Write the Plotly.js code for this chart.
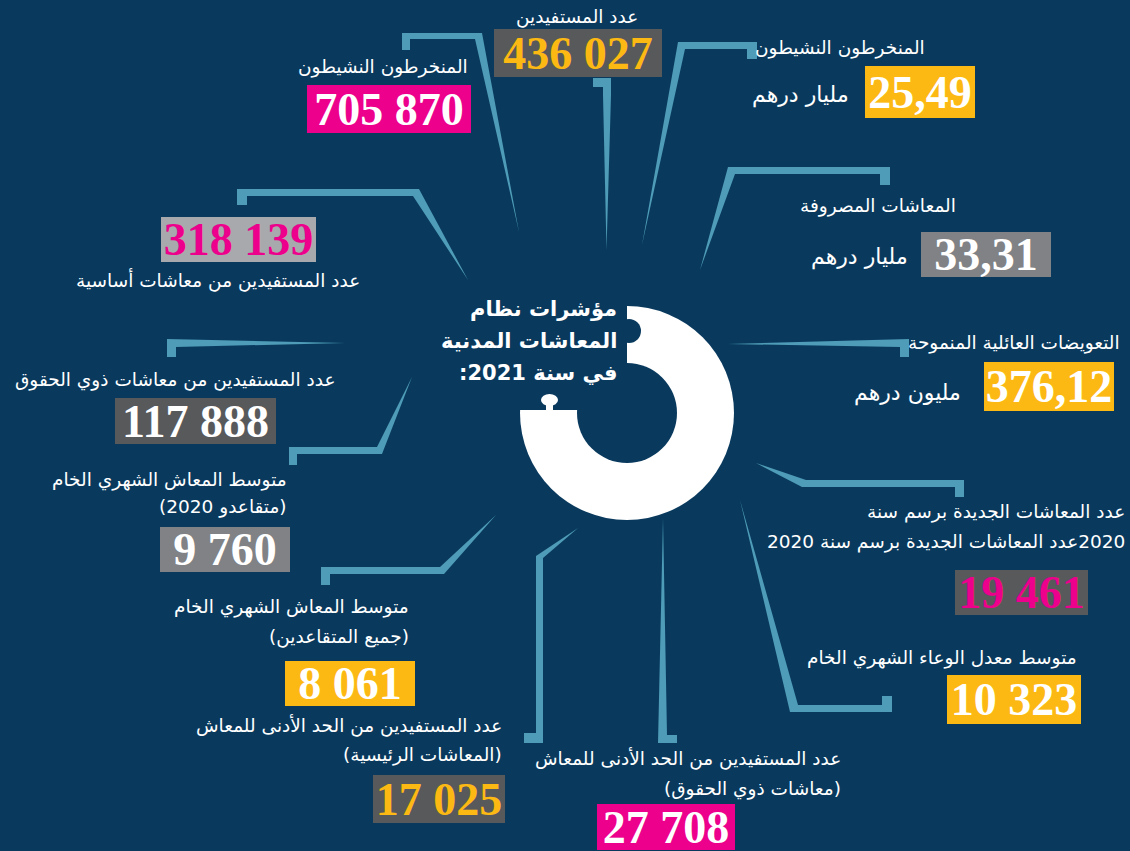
<!DOCTYPE html>
<html>
<head>
<meta charset="utf-8">
<script src="https://cdn.plot.ly/plotly-3.0.1.min.js"></script>
<style>html,body{margin:0;padding:0;background:#093a5e;}#chart{width:1130px;height:851px;}</style>
</head>
<body>
<div id="chart"></div>
<script>
// ---------- data ----------
const chartTitle = ['مؤشرات نظام', 'المعاشات المدنية', 'في سنة 2021:'];
const labels = [
  'عدد المستفيدين',
  'المنخرطون النشيطون',
  'المنخرطون النشيطون',
  'المعاشات المصروفة',
  'التعويضات العائلية المنموحة',
  'عدد المعاشات الجديدة برسم سنة<br>2020عدد المعاشات الجديدة برسم سنة 2020',
  'متوسط معدل الوعاء الشهري الخام',
  'عدد المستفيدين من الحد الأدنى للمعاش<br>(معاشات ذوي الحقوق)',
  'عدد المستفيدين من الحد الأدنى للمعاش<br>(المعاشات الرئيسية)',
  'متوسط المعاش الشهري الخام<br>(جميع المتقاعدين)',
  'متوسط المعاش الشهري الخام<br>(متقاعدو 2020)',
  'عدد المستفيدين من معاشات ذوي الحقوق',
  'عدد المستفيدين من معاشات أساسية'
];
const values = [436027, 705870, 25.49, 33.31, 376.12, 19461, 10323, 27708, 17025, 8061, 9760, 117888, 318139];
const decimals = [0, 0, 2, 2, 2, 0, 0, 0, 0, 0, 0, 0, 0];
const units = ['', '', 'مليار درهم', 'مليار درهم', 'مليون درهم', '', '', '', '', '', '', '', ''];

// ---------- styles / layout ----------
const BG = '#093a5e', LINE = '#4e9cb7';
const PINK = '#ec008c', GOLD = '#fdb913', DGRAY = '#58595b', MGRAY = '#808285', LGRAY = '#a7a9ac', WHITE = '#ffffff';
const boxStyle = [
  [DGRAY, GOLD], [PINK, WHITE], [GOLD, WHITE], [MGRAY, WHITE], [GOLD, WHITE],
  [DGRAY, PINK], [GOLD, WHITE], [PINK, WHITE], [DGRAY, GOLD], [GOLD, WHITE],
  [MGRAY, WHITE], [DGRAY, WHITE], [LGRAY, PINK]
];
const place = [
  {lx: 640, ly: 17, box: [494, 29, 168, 48]},
  {lx: 470, ly: 67, box: [307, 85, 164, 48]},
  {lx: 927, ly: 48, box: [865, 66, 110, 52], ux: 851, uy: 95},
  {lx: 958, ly: 206, box: [921, 232, 130, 45], ux: 910, uy: 257},
  {lx: 1122, ly: 343, box: [984, 362, 130, 49], ux: 963, uy: 393},
  {lx: 1127, ly: 512, box: [955, 570, 133, 45], gap: 30},
  {lx: 1079, ly: 658, box: [947, 675, 134, 49]},
  {lx: 843, ly: 758, box: [597, 804, 138, 46], gap: 31},
  {lx: 504, ly: 725, box: [373, 775, 132, 48], gap: 30},
  {lx: 411, ly: 607, box: [285, 661, 130, 45], gap: 30},
  {lx: 289, ly: 480, box: [160, 527, 130, 45], gap: 27},
  {lx: 338, ly: 380, box: [115, 398, 161, 46]},
  {lx: 362, ly: 280, box: [161, 217, 155, 45]}
];
// connector outlines (decorative)
const connectors = [
  [[402,50],[402,33],[482,33],[519,232],[475,39],[410,39],[410,50]],
  [[593,78],[611,78],[611,95],[606.5,250],[603,95],[603,87],[593,87]],
  [[757,59],[757,42],[678,42],[642,245],[685,49],[747,49],[747,59]],
  [[890,185],[890,167],[728,167],[700,270],[735,174],[880,174],[880,185]],
  [[728,344],[909,339],[909,357],[900,357],[900,347]],
  [[756,463],[806,480],[964,480],[964,497],[955,497],[955,487],[802,487]],
  [[740,500],[798,705],[882,705],[882,696],[892,696],[892,712],[790,712]],
  [[663,518],[667,735],[677,735],[677,743],[658,743]],
  [[578,528],[543,558],[543,743],[524,743],[524,733],[536,733],[536,556]],
  [[496,515],[444,574],[330,574],[330,585],[321,585],[321,567],[440,567]],
  [[412,377],[382,454],[297,454],[297,465],[289,465],[289,447],[377,447]],
  [[167,357],[167,339],[345,343],[176,347],[176,357]],
  [[237,205],[237,189],[419,189],[468,280],[413,196],[247,196],[247,205]]
];

const AR_FONT = 'DejaVu Sans, Noto Sans, sans-serif';
const NUM_FONT = 'Liberation Serif, serif';
const RLM = '\u200F';
function rtl(s) { return RLM + s + RLM; }
function fmt(v, d) {
  if (d > 0) return v.toFixed(d).replace('.', ',');
  return String(Math.round(v)).replace(/\B(?=(\d{3})+(?!\d))/g, ' ');
}

const shapes = [];
connectors.forEach(pts => {
  const path = 'M' + pts.map(p => p[0] + ',' + p[1]).join('L') + 'Z';
  shapes.push({type: 'path', xref: 'x', yref: 'y', path: path, fillcolor: LINE, line: {width: 0}, layer: 'above'});
});
// donut
shapes.push({type: 'circle', xref: 'x', yref: 'y', x0: 520, x1: 734, y0: 306, y1: 520, fillcolor: WHITE, line: {width: 0}});
shapes.push({type: 'circle', xref: 'x', yref: 'y', x0: 577, x1: 677, y0: 363, y1: 463, fillcolor: BG, line: {width: 0}});
shapes.push({type: 'rect', xref: 'x', yref: 'y', x0: 512, x1: 627, y0: 300, y1: 410, fillcolor: BG, line: {width: 0}});
shapes.push({type: 'circle', xref: 'x', yref: 'y', x0: 617, x1: 641, y0: 319, y1: 343, fillcolor: BG, line: {width: 0}});
shapes.push({type: 'circle', xref: 'x', yref: 'y', x0: 541, x1: 558, y0: 394, y1: 406, fillcolor: WHITE, line: {width: 0}});
shapes.push({type: 'rect', xref: 'x', yref: 'y', x0: 546, x1: 553, y0: 403, y1: 411, fillcolor: WHITE, line: {width: 0}});

const annotations = [];
chartTitle.forEach((t, i) => {
  annotations.push({xref: 'x', yref: 'y', x: 619, y: 309 + i * 32, xanchor: 'right', yanchor: 'middle',
    text: '<b>' + rtl(t) + '</b>', showarrow: false, font: {family: AR_FONT, size: 21, color: WHITE}});
});
labels.forEach((lab, i) => {
  const p = place[i];
  const lines = lab.split('<br>');
  lines.forEach((ln, j) => {
    annotations.push({xref: 'x', yref: 'y', x: p.lx, y: p.ly + j * (p.gap || 29), xanchor: 'right', yanchor: 'middle',
      text: rtl(ln), showarrow: false, font: {family: AR_FONT, size: 18.5, color: WHITE}});
  });
  const b = p.box;
  annotations.push({xref: 'x', yref: 'y', x: b[0], y: b[1], xanchor: 'left', yanchor: 'top',
    width: b[2], height: b[3], borderpad: 0, borderwidth: 0, bgcolor: boxStyle[i][0], align: 'center', valign: 'middle',
    text: fmt(values[i], decimals[i]), showarrow: false,
    font: {family: NUM_FONT, size: 46, weight: 'bold', color: boxStyle[i][1]}});
  if (units[i]) {
    annotations.push({xref: 'x', yref: 'y', x: p.ux, y: p.uy, xanchor: 'right', yanchor: 'middle',
      text: rtl(units[i]), showarrow: false, font: {family: AR_FONT, size: 22, color: WHITE}});
  }
});

const data = [{x: [0], y: [0], type: 'scatter', mode: 'markers', marker: {opacity: 0}, hoverinfo: 'skip', showlegend: false}];
const layout = {
  width: 1130, height: 851, margin: {l: 0, r: 0, t: 0, b: 0, pad: 0},
  paper_bgcolor: BG, plot_bgcolor: BG,
  xaxis: {range: [0, 1130], visible: false, fixedrange: true},
  yaxis: {range: [851, 0], visible: false, fixedrange: true},
  shapes: shapes, annotations: annotations, showlegend: false
};
Plotly.newPlot('chart', data, layout, {displayModeBar: false, staticPlot: true});
</script>
</body>
</html>
